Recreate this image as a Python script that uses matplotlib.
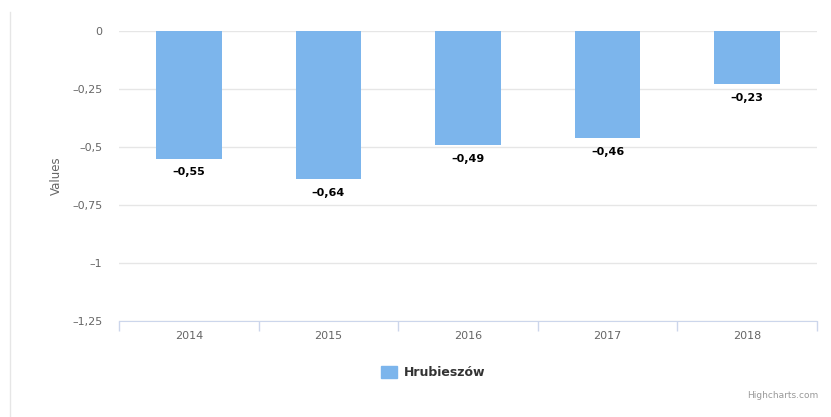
import matplotlib
matplotlib.use("Agg")
import matplotlib.pyplot as plt
import matplotlib.patches as mpatches
import matplotlib.lines as mlines
import numpy as np

years = ["2014", "2015", "2016", "2017", "2018"]
values = [-0.55, -0.64, -0.49, -0.46, -0.23]
series_name = "Hrubieszów"
y_ticks = [0, -0.25, -0.5, -0.75, -1, -1.25]

BAR_COLOR = "#7cb5ec"
GRID_COLOR = "#e6e6e6"
AXIS_COLOR = "#ccd6eb"
LABEL_COLOR = "#666666"


def fmt(v):
    s = f"{v:g}".replace(".", ",")
    return s.replace("-", "–")


fig = plt.figure(figsize=(8.31, 4.17), dpi=100, facecolor="white")
ax = fig.add_axes([119 / 831, 96 / 417, 698 / 831, 290 / 417])

x = np.arange(len(years))
ax.bar(x, values, width=0.47, color=BAR_COLOR, zorder=2)

for xi, v in zip(x, values):
    ax.annotate(fmt(v), (xi, v), xytext=(0, -10), textcoords="offset points",
                ha="center", va="center", fontsize=8, fontweight="bold", color="black")

ax.set_xlim(-0.5, len(years) - 0.5)
ax.set_ylim(-1.25, 0)
ax.set_yticks(y_ticks)
ax.set_yticklabels([fmt(t) for t in y_ticks])
ax.grid(axis="y", color=GRID_COLOR, linewidth=1, zorder=0)
ax.tick_params(axis="y", length=0, pad=12, labelsize=8, labelcolor=LABEL_COLOR)

ax.set_xticks(x)
ax.set_xticklabels(years)
ax.set_xticks(np.arange(len(years) + 1) - 0.5, minor=True)
ax.tick_params(axis="x", which="major", length=0, pad=7, labelsize=8, labelcolor=LABEL_COLOR)
ax.tick_params(axis="x", which="minor", length=7, color=AXIS_COLOR, width=1)

for side in ["top", "left", "right"]:
    ax.spines[side].set_visible(False)
ax.spines["bottom"].set_color(AXIS_COLOR)

ax.set_ylabel("Values", fontsize=8.5, color=LABEL_COLOR)
ax.yaxis.set_label_coords(-(119 - 63) / 698, 0.5)

# chart border on the left
fig.add_artist(mlines.Line2D([10 / 831, 10 / 831], [0, 1 - 12 / 417],
                             color=GRID_COLOR, linewidth=1, transform=fig.transFigure))

# legend
fig.add_artist(mpatches.Rectangle((381 / 831, 1 - 378 / 417), 16 / 831, 12 / 417,
                                  color=BAR_COLOR, transform=fig.transFigure))
fig.text(404 / 831, 1 - 372 / 417, series_name, fontsize=9, fontweight="bold",
         color="#333333", ha="left", va="center")

fig.text(818 / 831, 1 - 396 / 417, "Highcharts.com", fontsize=6.5, color="#999999",
         ha="right", va="center")

fig.savefig("out.png", dpi=100, facecolor=fig.get_facecolor())
